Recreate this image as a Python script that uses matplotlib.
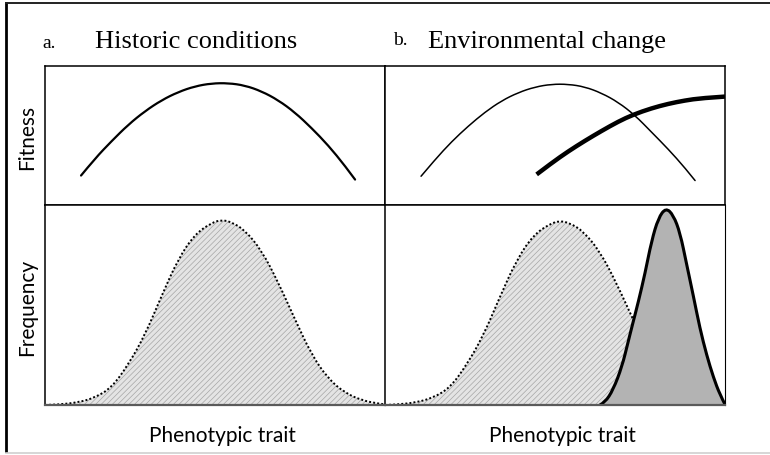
"""
Fitness landscape and trait distribution: historic conditions vs environmental change
"""

import matplotlib.pyplot as plt
from matplotlib.lines import Line2D
from matplotlib.path import Path
from matplotlib.patches import PathPatch

plt.rcParams['hatch.linewidth'] = 0.5

# ============================================================================
# Data (x: 0-100 across each panel, y: 0-100 up each panel)
# ============================================================================
# Fitness, historic optimum (panel a)
fit_a_x = [10.6, 14.7, 19.6, 24.5, 29.4, 34.3, 39.2, 44.1, 49.0, 53.9,
           58.8, 63.7, 68.6, 73.5, 78.4, 83.3, 88.2, 91.2]
fit_a_y = [21.2, 33.4, 46.0, 57.8, 67.5, 75.4, 81.3, 85.4, 87.5, 87.7,
           86.0, 81.8, 75.4, 66.6, 55.4, 42.9, 28.3, 18.3]

# Fitness, historic optimum (panel b, thin line)
fit_b_x = [10.6, 14.7, 19.6, 24.5, 29.4, 34.3, 39.2, 44.1, 49.0, 53.9,
           58.8, 63.7, 68.6, 73.5, 78.4, 83.3, 88.2, 91.2]
fit_b_y = [20.7, 32.6, 45.6, 56.8, 66.8, 75.0, 80.9, 84.9, 86.9, 86.9,
           85.0, 80.5, 73.9, 64.6, 52.4, 40.2, 26.8, 17.6]

# Fitness after environmental change (panel b, thick line)
fit_new_x = [44.6, 49.0, 53.9, 58.8, 63.7, 68.6, 73.0, 78.4, 83.3, 88.2, 93.1, 100.0]
fit_new_y = [22.0, 30.2, 38.6, 46.2, 53.3, 60.0, 65.0, 69.6, 72.8, 75.2, 76.9, 78.0]

# Trait frequency, historic population (panel a)
freq_a_x = [0.0, 3.9, 9.8, 14.7, 19.6, 24.5, 29.4, 34.3, 39.2, 44.1, 49.0, 52.0,
            54.9, 58.8, 63.7, 68.6, 73.5, 78.4, 83.3, 88.2, 93.1, 98.0, 100.0]
freq_a_y = [0.0, 0.2, 1.3, 3.7, 8.7, 20.2, 35.0, 54.6, 73.1, 85.4, 91.1, 92.6,
            91.4, 87.4, 77.3, 61.3, 42.9, 25.2, 13.1, 6.1, 2.4, 0.7, 0.3]

# Trait frequency, historic population (panel b)
freq_b_x = [0.0, 3.4, 9.3, 14.2, 19.1, 24.0, 28.9, 33.8, 38.7, 43.6, 48.5, 51.5,
            54.4, 58.3, 63.2, 68.1, 73.0, 77.9, 82.8, 87.7, 92.6, 97.5, 100.0]
freq_b_y = [0.0, 0.2, 1.3, 3.7, 8.6, 20.0, 34.6, 54.1, 72.5, 84.9, 90.6, 92.1,
            90.9, 86.9, 76.8, 60.9, 42.6, 25.0, 13.0, 6.0, 2.4, 0.7, 0.4]

# Trait frequency after selection (panel b, dark)
freq_new_x = [63.2, 64.7, 67.1, 69.7, 71.5, 72.9, 74.5, 76.5, 78.4, 80.4,
              82.6, 84.8, 86.8, 88.7, 90.7, 92.6, 94.6, 96.6, 98.5, 100.0]
freq_new_y = [0.0, 1.3, 7.6, 19.2, 31.5, 41.0, 51.5, 66.0, 82.0, 93.5,
              98.6, 95.0, 86.0, 70.5, 54.5, 38.5, 25.0, 13.8, 5.2, 0.3]

W, H = 770, 456
fig = plt.figure(figsize=(W / 100, H / 100), dpi=100)


def box(x0, y0, x1, y1):
    # pixel box -> figure fraction rect
    return [x0 / W, 1 - y1 / H, (x1 - x0) / W, (y1 - y0) / H]


def smooth_path(xs, ys, close=False):
    # quadratic Bezier through the read points (points act as control points)
    pts = list(zip(xs, ys))
    verts = [pts[0]]
    codes = [Path.MOVETO]
    n = len(pts)
    for i in range(1, n - 1):
        if i < n - 2:
            end = ((pts[i][0] + pts[i + 1][0]) / 2, (pts[i][1] + pts[i + 1][1]) / 2)
        else:
            end = pts[-1]
        verts += [pts[i], end]
        codes += [Path.CURVE3, Path.CURVE3]
    if close:
        verts += [(xs[-1], 0), (xs[0], 0), pts[0]]
        codes += [Path.LINETO, Path.LINETO, Path.CLOSEPOLY]
    return Path(verts, codes)


def curve(ax, xs, ys, **kw):
    ax.add_patch(PathPatch(smooth_path(xs, ys), fill=False, **kw))


def area(ax, xs, ys, **kw):
    ax.add_patch(PathPatch(smooth_path(xs, ys, close=True), **kw))


ax_fa = fig.add_axes(box(45, 67, 385, 206))
ax_fb = fig.add_axes(box(385, 67, 725, 206))
ax_da = fig.add_axes(box(45, 206, 385, 406))
ax_db = fig.add_axes(box(385, 206, 725, 406))

for ax in (ax_fa, ax_fb, ax_da, ax_db):
    ax.set_xlim(0, 100)
    ax.set_ylim(0, 100)
    ax.set_xticks([])
    ax.set_yticks([])
    for s in ax.spines.values():
        s.set_linewidth(1.1)
        s.set_color('black')
        s.set_zorder(6)
for ax in (ax_da, ax_db):
    ax.spines['bottom'].set_color('#5a5a5a')
    ax.spines['bottom'].set_linewidth(1.6)
    ax.spines['right'].set_linewidth(0.8)

# Fitness curves
curve(ax_fa, fit_a_x, fit_a_y, edgecolor='black', lw=1.6, capstyle='round')
curve(ax_fb, fit_b_x, fit_b_y, edgecolor='black', lw=1.1, capstyle='round')
curve(ax_fb, fit_new_x, fit_new_y, edgecolor='black', lw=3.2, capstyle='butt')

# Frequency distributions
for ax, xs, ys in ((ax_da, freq_a_x, freq_a_y), (ax_db, freq_b_x, freq_b_y)):
    area(ax, xs, ys, facecolor='#e4e4e4', edgecolor='#a6a6a6',
         hatch='//////', linewidth=0, zorder=1)
    curve(ax, xs, ys, edgecolor='black', lw=1.4, linestyle=(0, (1, 1.1)), zorder=2)

area(ax_db, freq_new_x, freq_new_y, facecolor='#b3b3b3', linewidth=0, zorder=3)
curve(ax_db, freq_new_x, freq_new_y, edgecolor='black', lw=2.2, zorder=4)

# Texts
serif = 'Liberation Serif'
sans = 'Lato'
fig.text(42 / W, 1 - 48 / H, 'a.', family=serif, fontsize=14, va='baseline')
fig.text(95 / W, 1 - 48 / H, 'Historic conditions', family=serif, fontsize=19,
         va='baseline')
fig.text(393 / W, 1 - 45 / H, 'b.', family=serif, fontsize=14, va='baseline')
fig.text(428 / W, 1 - 48 / H, 'Environmental change', family=serif, fontsize=19,
         va='baseline')

fig.text(27 / W, 1 - 137 / H, 'Fitness', family=sans, fontsize=15,
         rotation=90, ha='center', va='center')
fig.text(27 / W, 1 - 307 / H, 'Frequency', family=sans, fontsize=15,
         rotation=90, ha='center', va='center')
fig.text(222 / W, 1 - 436 / H, 'Phenotypic trait', family=sans, fontsize=15,
         ha='center', va='center')
fig.text(562 / W, 1 - 436 / H, 'Phenotypic trait', family=sans, fontsize=15,
         ha='center', va='center')

# Outer frame (left, top, bottom)
fig.add_artist(Line2D([6 / W, 6 / W], [1 - 4 / H, 1 - 452 / H], color='black', lw=2.0))
fig.add_artist(Line2D([6 / W, 1.0], [1 - 4 / H, 1 - 4 / H], color='#222222', lw=1.4))
fig.add_artist(Line2D([6 / W, 1.0], [1 - 454 / H, 1 - 454 / H], color='#cfcfcf', lw=1.2))

plt.savefig('out.png', dpi=100)
